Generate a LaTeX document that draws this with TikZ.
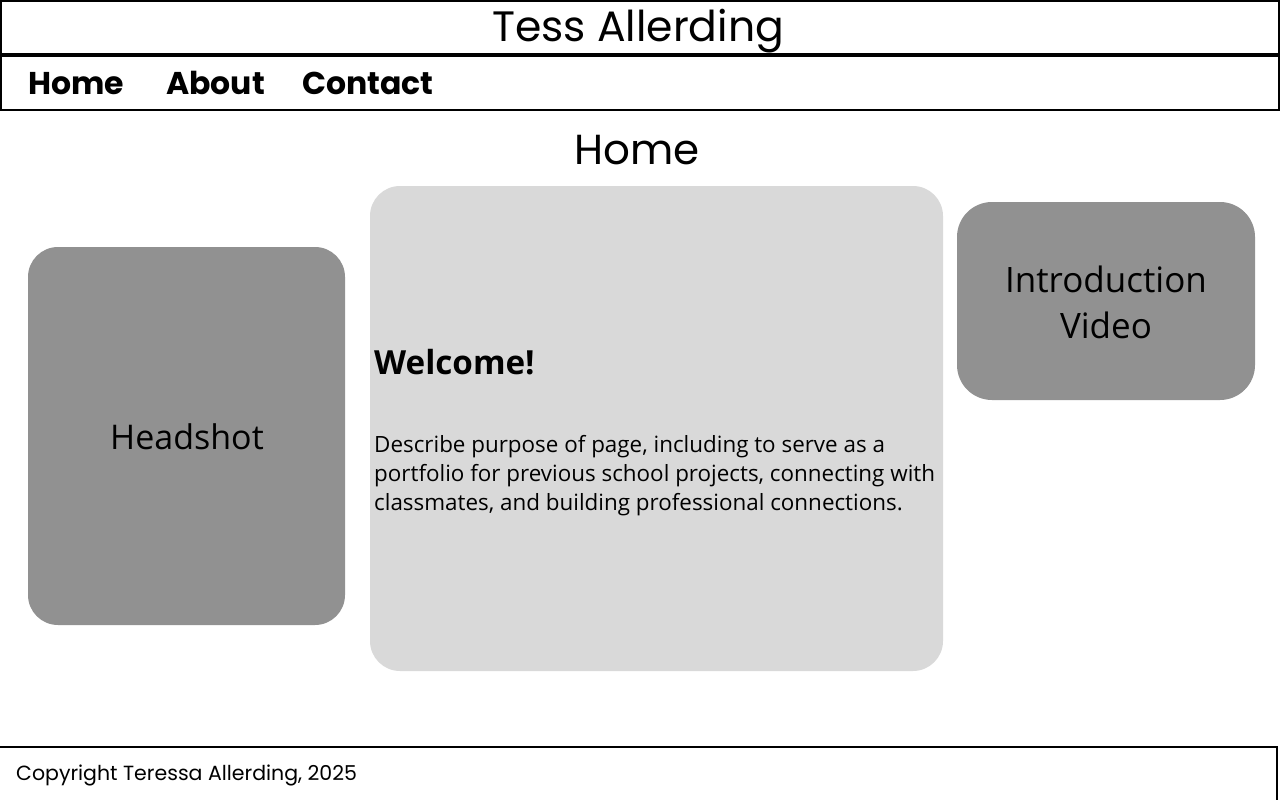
\documentclass[tikz,border=0pt]{standalone}
\usepackage{fontspec}
\setmainfont{Poppins}
\newfontfamily\bodyfont{Open Sans}
\definecolor{darkbox}{HTML}{919191}
\definecolor{lightbox}{HTML}{D9D9D9}
\tikzset{
  bar/.style={draw=black, line width=1.1pt},
  card/.style={rounded corners=30pt, draw=none},
  navitem/.style={anchor=base west, inner sep=0pt, font=\fontsize{31.5}{40}\selectfont\bfseries},
  body/.style={inner sep=0pt, font=\bodyfont\fontsize{22.4}{29}\selectfont}
}
\begin{document}
\begin{tikzpicture}[x=1pt,y=-1pt]
\useasboundingbox (0,0) rectangle (1280,800);
% header
\draw[bar] (1,1) rectangle (1279,54);
\node[inner sep=0pt, anchor=base, font=\fontsize{42.5}{50}\selectfont] (title) at (638,42) {Tess Allerding};
% nav
\draw[bar] (1,56) rectangle (1279,110);
\node[navitem] (home) at (28,94) {Home};
\node[navitem] (about) at (166,94) {About};
\node[navitem] (contact) at (302,94) {Contact};
% page heading
\node[inner sep=0pt, anchor=base, font=\fontsize{42}{50}\selectfont] (heading) at (637,164) {Home};
% cards
\fill[card, darkbox] (28,247) rectangle (345,625);
\fill[card, lightbox] (370,186) rectangle (943,671);
\fill[card, darkbox, rounded corners=35pt] (957,202) rectangle (1255,400);
\node[body, font=\bodyfont\fontsize{34}{40}\selectfont] (headshot) at (187,437) {Headshot};
\node[body, font=\bodyfont\fontsize{35}{46}\selectfont, align=center] (video) at (1106,302) {Introduction\\Video};
\node[body, anchor=base west, font=\bodyfont\fontsize{33.2}{40}\selectfont\bfseries] (welcome) at (374,374) {Welcome!};
\node[body, anchor=north west, align=left] (desc) at (374,435) {Describe purpose of page, including to serve as a\\portfolio for previous school projects, connecting with\\classmates, and building professional connections.};
% footer
\draw[bar] (0,747) -- (1277,747) -- (1277,801);
\node[inner sep=0pt, anchor=base west, font=\fontsize{20.5}{24}\selectfont] (copy) at (16,780) {Copyright Teressa Allerding, 2025};
\end{tikzpicture}
\end{document}
